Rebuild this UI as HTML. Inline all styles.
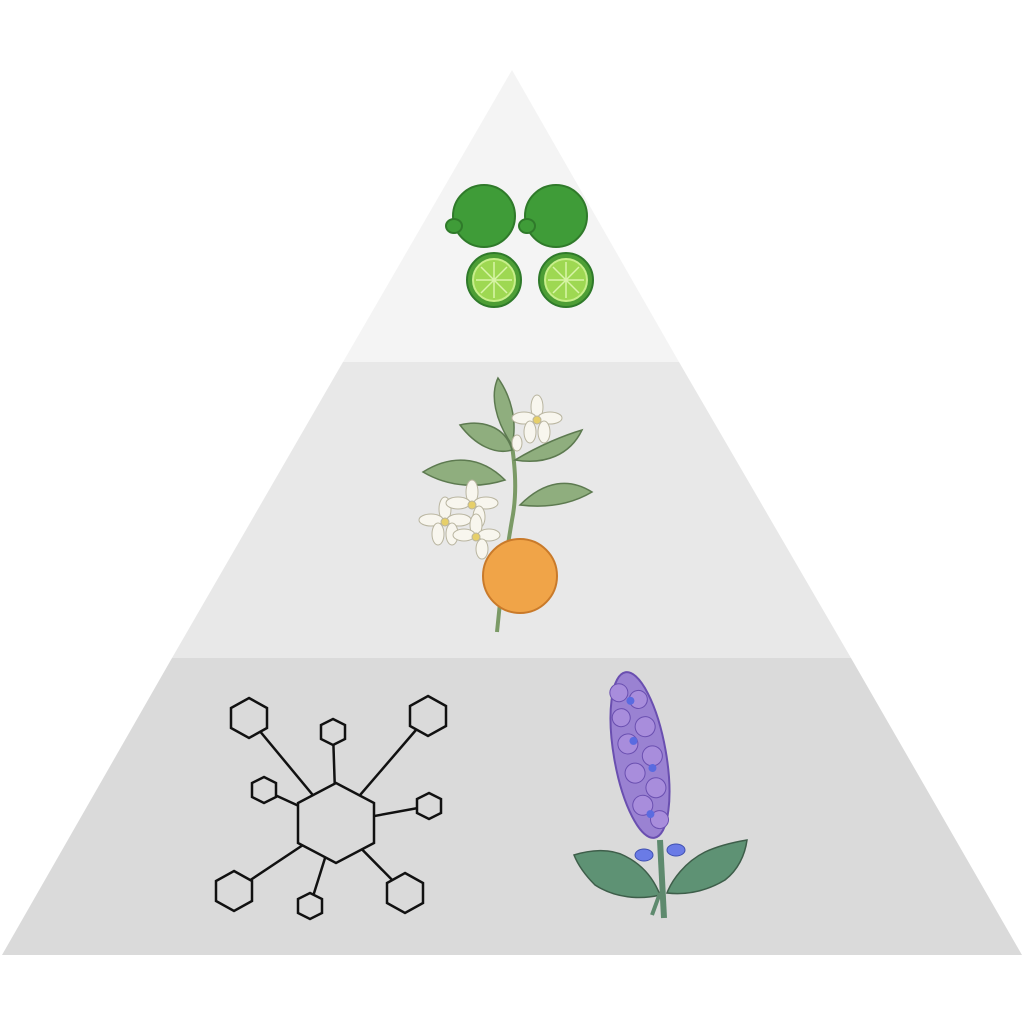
<!DOCTYPE html>
<html><head><meta charset="utf-8"><style>html,body{margin:0;padding:0;background:#fff}svg{display:block}</style></head>
<body>
<svg width="1024" height="1024" viewBox="0 0 1024 1024" xmlns="http://www.w3.org/2000/svg">
<polygon points="512,70 679,362 343,362" fill="#f4f4f4"/>
<polygon points="343,362 679,362 851,658 172,658" fill="#e8e8e8"/>
<polygon points="172,658 851,658 1022,955 2,955" fill="#dadada"/>

<!-- limes -->
<g stroke="#2f7a2a" stroke-width="2">
<circle cx="484" cy="216" r="31" fill="#3f9c38"/>
<ellipse cx="454" cy="226" rx="8" ry="7" fill="#3f9c38"/>
<circle cx="556" cy="216" r="31" fill="#3f9c38"/>
<ellipse cx="527" cy="226" rx="8" ry="7" fill="#3f9c38"/>
<circle cx="494" cy="280" r="27" fill="#4d9e35"/>
<circle cx="494" cy="280" r="21" fill="#9ed852" stroke="#c8ef8a"/>
<circle cx="566" cy="280" r="27" fill="#4d9e35"/>
<circle cx="566" cy="280" r="21" fill="#9ed852" stroke="#c8ef8a"/>
</g>
<g stroke="#d9f5a8" stroke-width="1.5">
<line x1="494" y1="262" x2="494" y2="298"/><line x1="476" y1="280" x2="512" y2="280"/><line x1="481" y1="267" x2="507" y2="293"/><line x1="507" y1="267" x2="481" y2="293"/>
<line x1="566" y1="262" x2="566" y2="298"/><line x1="548" y1="280" x2="584" y2="280"/><line x1="553" y1="267" x2="579" y2="293"/><line x1="579" y1="267" x2="553" y2="293"/>
</g>

<!-- orange blossom -->
<g fill="#8fae7e" stroke="#5d7a50" stroke-width="1.5">
<path d="M497,632 C500,600 505,560 512,520 C518,490 515,460 508,420" fill="none" stroke="#7b9a66" stroke-width="4"/>
<path d="M505,480 C480,455 450,455 423,472 C450,488 480,488 505,480Z"/>
<path d="M512,450 C505,425 480,420 460,425 C475,445 495,455 512,450Z"/>
<path d="M512,445 C495,420 490,395 498,378 C510,395 518,420 512,445Z"/>
<path d="M515,460 C540,445 565,435 582,430 C570,455 545,465 515,460Z"/>
<path d="M520,505 C545,480 570,478 592,492 C570,505 545,508 520,505Z"/>
</g>
<circle cx="520" cy="576" r="37" fill="#f0a448" stroke="#c97a2a" stroke-width="2"/>
<g fill="#f8f6ee" stroke="#b9b5a0" stroke-width="1">
<g transform="translate(537,420)"><ellipse cx="0" cy="-13" rx="6" ry="12"/><ellipse cx="13" cy="-2" rx="12" ry="6"/><ellipse cx="-13" cy="-2" rx="12" ry="6"/><ellipse cx="7" cy="12" rx="6" ry="11"/><ellipse cx="-7" cy="12" rx="6" ry="11"/><circle r="4" fill="#e6cf6a"/></g>
<g transform="translate(445,522)"><ellipse cx="0" cy="-13" rx="6" ry="12"/><ellipse cx="14" cy="-2" rx="12" ry="6"/><ellipse cx="-14" cy="-2" rx="12" ry="6"/><ellipse cx="7" cy="12" rx="6" ry="11"/><ellipse cx="-7" cy="12" rx="6" ry="11"/><circle r="4" fill="#e6cf6a"/></g>
<g transform="translate(472,505)"><ellipse cx="0" cy="-13" rx="6" ry="12"/><ellipse cx="14" cy="-2" rx="12" ry="6"/><ellipse cx="-14" cy="-2" rx="12" ry="6"/><ellipse cx="7" cy="12" rx="6" ry="11"/><circle r="4" fill="#e6cf6a"/></g>
<g transform="translate(476,537)"><ellipse cx="0" cy="-12" rx="6" ry="11"/><ellipse cx="13" cy="-2" rx="11" ry="6"/><ellipse cx="-12" cy="-2" rx="11" ry="6"/><ellipse cx="6" cy="12" rx="6" ry="10"/><circle r="4" fill="#e6cf6a"/></g>
<ellipse cx="517" cy="443" rx="5" ry="8"/>
</g>

<!-- hex network -->
<g stroke="#111" stroke-width="2.5" fill="none">
<line x1="336" y1="823" x2="249" y2="718"/><line x1="336" y1="823" x2="333" y2="732"/><line x1="336" y1="823" x2="428" y2="716"/>
<line x1="336" y1="823" x2="264" y2="790"/><line x1="336" y1="823" x2="429" y2="806"/><line x1="336" y1="823" x2="234" y2="891"/>
<line x1="336" y1="823" x2="310" y2="906"/><line x1="336" y1="823" x2="405" y2="893"/>
<g fill="#dadada">
<polygon points="336,783 374,803 374,843 336,863 298,843 298,803"/>
<polygon points="249,698 267,708 267,728 249,738 231,728 231,708"/>
<polygon points="333,719 345,725 345,739 333,745 321,739 321,725"/>
<polygon points="428,696 446,706 446,726 428,736 410,726 410,706"/>
<polygon points="264,777 276,783 276,797 264,803 252,797 252,783"/>
<polygon points="429,793 441,799 441,813 429,819 417,813 417,799"/>
<polygon points="234,871 252,881 252,901 234,911 216,901 216,881"/>
<polygon points="310,893 322,899 322,913 310,919 298,913 298,899"/>
<polygon points="405,873 423,883 423,903 405,913 387,903 387,883"/>
</g></g>

<!-- lavender -->
<g stroke="#3e5e4a" stroke-width="1.5" fill="#5e9274">
<path d="M660,840 L664,918" fill="none" stroke="#5e8a6e" stroke-width="6"/>
<path d="M660,895 C640,900 615,898 595,885 C585,875 578,865 574,855 C590,850 610,848 625,856 C645,866 655,882 660,895Z"/>
<path d="M667,893 C672,880 685,862 705,852 C720,845 735,842 747,840 C745,855 738,870 725,880 C705,892 685,895 667,893Z"/>
<path d="M660,893 L652,915" fill="none" stroke="#5e8a6e" stroke-width="4"/>
</g>
<g transform="rotate(-10 640 755)">
<ellipse cx="640" cy="755" rx="26" ry="84" fill="#9a82d2" stroke="#6a4fb0" stroke-width="2"/>
<g fill="#a88ddc" stroke="#6a4fb0" stroke-width="1">
<circle cx="630" cy="690" r="9"/><circle cx="648" cy="700" r="9"/><circle cx="628" cy="715" r="9"/><circle cx="650" cy="728" r="10"/>
<circle cx="630" cy="742" r="10"/><circle cx="652" cy="758" r="10"/><circle cx="632" cy="772" r="10"/><circle cx="650" cy="790" r="10"/>
<circle cx="634" cy="805" r="10"/><circle cx="648" cy="822" r="9"/>
</g>
<g fill="#5a6be0"><circle cx="640" cy="700" r="4"/><circle cx="636" cy="740" r="4"/><circle cx="650" cy="770" r="4"/><circle cx="640" cy="815" r="4"/></g>
</g>
<g fill="#6a7be6" stroke="#3f4fb0"><ellipse cx="644" cy="855" rx="9" ry="6"/><ellipse cx="676" cy="850" rx="9" ry="6"/></g>
</svg>
</body></html>
